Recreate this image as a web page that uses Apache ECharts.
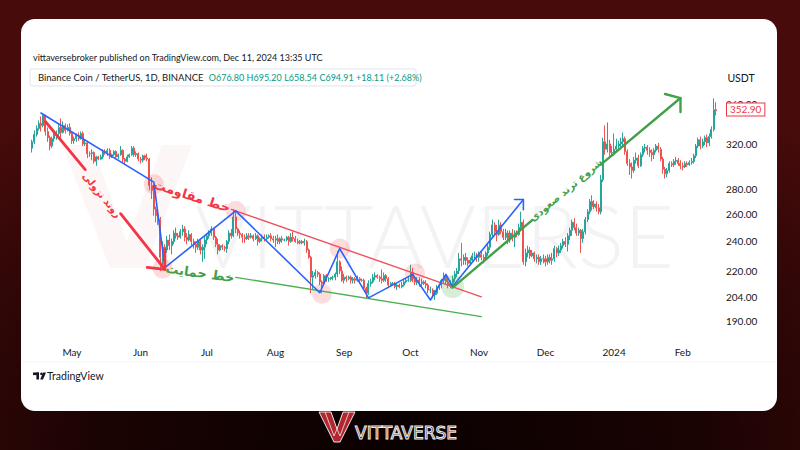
<!DOCTYPE html>
<html><head><meta charset="utf-8">
<script src="https://cdn.jsdelivr.net/npm/echarts@6/dist/echarts.min.js"></script>
<style>
html,body{margin:0;padding:0;width:800px;height:450px;overflow:hidden;}
body{background:radial-gradient(ellipse 75% 95% at 50% 100%, #0a0101 0%, #1a0303 50%, #480b0b 100%);}
#card{position:absolute;left:21px;top:19px;width:756px;height:392px;background:#fff;border-radius:14px;}
#chart{position:absolute;left:0;top:0;width:800px;height:450px;}
</style></head><body>
<div id="card"></div><div id="chart"></div>
<script>
// ---- daily candles [open, close, low, high], BNB/USDT from 2023-04-13 ----
const apr=[[316,322,312,324],[322,329,320,333],[329,335,327,338],[335,340,333,343],[340,338,332,347],[338,348,336,350],[348,332,328,349],[332,326,322,336],[326,318,314,328],[318,325,316,327],[325,329,322,331],[329,330,324,333],[330,336,327,339],[336,331,325,345],[331,338,330,342],[338,333,330,340],[333,336,332,339],[336,330,328,340]];
const may=[[330,323,320,332],[323,325,320,327],[325,328,322,330],[328,325,323,331],[325,330,324,332],[330,320,318,332],[320,321,318,324],[321,311,307,322],[311,311,308,313],[311,312,305,315],[312,304,302,313],[304,308,300,309],[308,306,305,309],[306,308,305,310],[308,313,306,315],[313,312,310,315],[312,314,309,316],[314,308,306,316],[308,310,307,311],[310,313,309,314],[313,308,306,314],[308,310,306,311],[310,314,309,318],[314,306,303,315],[306,304,301,307],[304,308,303,310],[308,310,307,311],[310,316,309,318],[316,310,308,318],[310,311,308,313],[311,306,304,312]];
const jun=[[306,305,302,308],[305,309,303,310],[309,307,305,310],[307,306,304,311],[306,283,279,307],[283,279,272,290],[279,264,259,284],[264,259,254,266],[259,256,252,262],[256,229,220,258],[229,236,224,240],[236,234,230,238],[234,241,232,244],[241,237,234,245],[237,240,231,242],[240,246,238,248],[246,244,242,250],[244,243,241,246],[243,247,242,249],[247,249,244,252],[249,243,240,251],[243,241,238,246],[241,245,240,248],[245,240,237,246],[240,238,235,242],[238,236,232,240],[236,240,234,242],[240,234,231,241],[234,236,226,238],[236,241,228,244]];
const jul=[[241,244,238,246],[244,246,242,248],[246,249,244,251],[249,243,241,250],[243,238,236,244],[238,234,231,242],[234,237,233,238],[237,236,234,238],[236,235,233,237],[235,240,232,241],[240,246,238,248],[246,244,242,249],[244,258,243,264],[258,249,246,262],[249,246,244,250],[246,245,242,248],[245,243,239,246],[243,242,239,245],[242,244,241,246],[244,243,241,246],[243,244,242,246],[244,242,240,245],[242,244,241,246],[244,240,237,245],[240,242,239,243],[242,243,240,245],[243,242,240,245],[242,243,241,245],[243,244,242,245],[244,242,240,246],[242,241,239,244]];
const aug=[[241,242,236,244],[242,240,238,245],[240,242,238,243],[242,241,239,244],[241,241,240,242],[241,243,240,244],[243,240,237,244],[240,243,239,246],[243,242,240,247],[242,240,239,244],[240,239,238,242],[239,240,238,241],[240,239,238,241],[239,240,237,242],[240,234,232,241],[234,229,228,235],[229,216,206,230],[216,217,208,220],[217,219,215,221],[219,218,216,220],[218,213,211,219],[213,212,206,214],[212,217,211,218],[217,215,213,218],[215,215,213,216],[215,216,214,216],[216,216,214,217],[216,218,214,219],[218,226,216,233],[226,220,218,227],[220,214,213,223]];
const sep=[[214,216,212,218],[216,215,213,217],[215,216,214,217],[216,214,212,217],[214,215,212,216],[215,214,212,216],[214,215,213,217],[215,214,212,216],[214,214,213,215],[214,209,208,215],[209,206,203,210],[206,212,205,214],[212,213,210,215],[213,216,212,218],[216,217,214,219],[217,216,215,218],[216,215,213,217],[215,214,212,221],[214,217,213,219],[217,215,213,218],[215,211,209,216],[211,212,210,213],[212,212,211,213],[212,210,209,213],[210,211,208,212],[211,210,209,212],[210,211,209,213],[211,213,210,215],[213,214,212,215],[214,214,213,216]];
const oct=[[214,219,213,224],[219,215,213,222],[215,213,211,216],[213,214,211,216],[214,212,210,216],[212,213,210,215],[213,212,211,214],[212,211,209,214],[211,208,206,212],[208,208,206,210],[208,205,203,209],[205,206,202,208],[206,210,205,211],[210,211,208,212],[211,214,209,215],[214,217,212,219],[217,213,211,218],[213,211,209,215],[211,212,209,214],[212,215,210,217],[215,218,213,220],[218,220,216,222],[220,228,218,232],[228,227,223,239],[227,229,224,231],[229,227,224,232],[227,225,223,229],[225,227,224,229],[227,230,226,232],[230,230,227,233],[230,229,226,232]];
const nov=[[229,231,226,233],[231,229,227,234],[229,228,225,231],[228,232,227,233],[232,236,230,238],[236,245,234,247],[245,252,243,256],[252,247,244,254],[247,245,240,252],[245,252,244,256],[252,247,245,254],[247,243,241,249],[243,246,241,249],[246,241,238,248],[241,246,239,248],[246,243,240,249],[243,246,236,248],[246,245,243,248],[245,250,244,253],[250,254,248,262],[254,226,224,256],[226,232,223,235],[232,234,229,237],[234,230,228,236],[230,232,229,234],[232,228,226,233],[228,229,225,231],[229,226,224,231],[226,228,224,230],[228,228,225,231]];
const dec=[[228,226,223,230],[226,229,224,231],[229,227,225,231],[227,228,224,232],[228,235,226,237],[235,232,229,236],[232,234,230,237],[234,237,232,239],[237,240,235,242],[240,238,236,243],[238,244,233,246],[244,248,241,250],[248,254,244,256],[254,250,248,257],[250,246,244,253],[246,248,244,250],[248,242,232,249],[242,247,239,249],[247,256,245,258],[256,262,254,264],[262,270,260,272],[270,266,263,275],[266,268,264,271],[268,265,262,270],[265,262,260,268],[262,288,260,292],[288,322,286,326],[322,315,310,338],[315,320,312,341],[320,312,309,324],[312,312,308,318]];
const jan=[[312,315,309,330],[315,318,312,325],[318,320,314,323],[320,322,316,326],[322,325,318,331],[325,313,310,327],[313,302,300,315],[302,299,292,306],[299,296,289,303],[296,305,294,308],[305,307,302,312],[307,300,298,310],[300,310,299,312],[310,316,308,318],[316,317,312,320],[317,314,310,319],[314,312,308,317],[312,310,304,315],[310,314,306,316],[314,318,312,320],[318,315,312,321],[315,306,304,317],[306,297,293,308],[297,293,289,299],[293,296,290,298],[296,302,294,304],[302,301,299,304],[301,304,299,306],[304,305,301,308],[305,302,300,307],[302,300,297,305]];
const feb=[[300,299,296,303],[299,302,298,304],[302,301,299,304],[301,303,300,305],[303,304,301,307],[304,309,302,311],[309,318,307,320],[318,324,316,326],[324,318,315,327],[318,322,316,325],[322,326,319,328],[326,321,317,329],[321,327,318,330],[327,334,325,337],[334,354,332,366],[354,352.9,348,362]];
const startDate = '2023-04-13';
const lastPrice = 352.9;
const priceTicks = [190, 204, 220, 240, 260, 280, 320, 360];
const monthNames = ['Jan','Feb','Mar','Apr','May','Jun','Jul','Aug','Sep','Oct','Nov','Dec'];

// ---- drawn annotations: [date, price] ----
const blueZigzag = [['2023-04-17',350.6],['2023-06-07',285.9],['2023-06-12',222.2],['2023-07-14',262.6],['2023-08-21',206.3],['2023-08-30',235.0],['2023-09-12',203.2],['2023-10-02',217.8],['2023-10-10',201.9],['2023-10-17',217.8],['2023-10-20',210.1],['2023-11-21',271.6]];
const blueHead = [['2023-11-17',271.6],['2023-11-21',271.6],['2023-11-21',263.6]];
const resistance = [['2023-07-12',263.8],['2023-11-02',203.8]];
const support = [['2023-07-14',215.9],['2023-11-02',192.3]];
const upTrendA = [['2023-10-20',209.4],['2023-11-25',255.6]];
const upTrendB = [['2023-12-26',301.1],['2024-01-31',366.4]];
const upHead = [['2024-01-24',370.8],['2024-01-31',366.4],['2024-01-31',351.6]];
const downA = [['2023-04-19',341.9],['2023-05-07',296.7]];
const downB = [['2023-05-23',260.5],['2023-06-12',221.0]];
const downHead = [['2023-06-04',222.3],['2023-06-12',221.0],['2023-06-12',234.4]];
const pinkDots = [['2023-06-07',284.1],['2023-06-11',221.6],['2023-07-14',262.6],['2023-08-22',205.7],['2023-08-30',235.0],['2023-10-03',218.4]];
const greenDots = [['2023-10-20',210.1]];

// ---- build ----
const candles = [].concat(apr,may,jun,jul,aug,sep,oct,nov,dec,jan,feb);
const dates = [];
const t0 = Date.parse(startDate+'T00:00:00Z');
for (let i=0;i<candles.length;i++){ dates.push(new Date(t0+i*86400000).toISOString().slice(0,10)); }
const L = Math.log;
const kData = candles.map(c=>c.map(L));
const pts = a => a.map(p=>[p[0], L(p[1])]);
const UP='#26a69a', DOWN='#ef5350', RED='#f23645', BLUE='#2962ff', GREEN='#43a047';

function lineSeries(data,color,width){
  return {type:'line',data:pts(data),symbol:'none',showSymbol:false,silent:true,z:5,
    lineStyle:{color:color,width:width,cap:'round',join:'round'},animation:false};
}

const chart = echarts.init(document.getElementById('chart'), null, {renderer:'svg',width:800,height:450});
chart.setOption({
  backgroundColor:'transparent',
  animation:false,
  grid:{left:31,right:83,top:90,bottom:112,outerBoundsMode:'none',containLabel:false},
  xAxis:{type:'category',data:dates,boundaryGap:true,
    axisLine:{show:false},axisTick:{show:false},splitLine:{show:false},
    axisLabel:{color:'#131722',fontSize:10,fontFamily:'Lato',margin:9,hideOverlap:false,
      interval:(i,v)=>v.slice(8)==='01',
      formatter:v=>{const m=+v.slice(5,7);return m===1?v.slice(0,4):monthNames[m-1];}}},
  yAxis:{type:'value',position:'right',min:L(180.5),max:L(375.2),
    axisLine:{show:false},axisTick:{show:false},splitLine:{show:false},
    axisLabel:{color:'#131722',fontSize:10,fontFamily:'Lato',margin:9,showMinLabel:true,showMaxLabel:true,
      customValues:priceTicks.map(L),formatter:v=>Math.exp(v).toFixed(2)}},
  series:[
    {type:'candlestick',data:kData,barWidth:'68%',z:2,silent:true,
      itemStyle:{color:UP,color0:DOWN,borderColor:UP,borderColor0:DOWN,borderWidth:1},
      markLine:{silent:true,symbol:'none',animation:false,z:20,
        lineStyle:{color:'rgba(242,54,69,0)',width:1,type:'solid'},
        data:[{yAxis:L(lastPrice)}],
        label:{show:true,position:'end',distance:10,formatter:lastPrice.toFixed(2),color:RED,fontSize:10,fontFamily:'Lato',
          backgroundColor:'#ffffff',borderColor:RED,borderWidth:1,padding:[1,3,1,3]}}},
    {type:'scatter',data:pts(pinkDots),symbolSize:20,silent:true,z:3,itemStyle:{color:'rgba(242,54,69,0.22)'}},
    {type:'scatter',data:pts(greenDots),symbolSize:23,silent:true,z:3,itemStyle:{color:'rgba(76,175,80,0.28)'}},
    lineSeries(resistance,'#f0505e',1.4),
    lineSeries(support,'#4caf50',1.3),
    lineSeries(blueZigzag,BLUE,1.6),
    lineSeries(blueHead,BLUE,1.6),
    lineSeries(upTrendA,GREEN,2.4),
    lineSeries(upTrendB,GREEN,2.4),
    lineSeries(upHead,GREEN,2.4),
    lineSeries(downA,RED,2.8),
    lineSeries(downB,RED,2.8),
    lineSeries(downHead,RED,2.8)
  ],
  graphic:[
    {type:'polygon',silent:true,z:0,shape:{points:[[62,145],[92,145],[127,242],[162,145],[192,145],[145,268],[110,268]]},style:{fill:'#fdf6f6'}},
    {type:'text',silent:true,z:0,x:195,y:234,style:{text:'VITTAVERSE',font:'300 86px Lato',fill:'#f3f3f5',align:'left',verticalAlign:'middle'}},
    {type:'text',silent:true,z:10,x:33,y:57,style:{text:'vittaversebroker published on TradingView.com, Dec 11, 2024 13:35 UTC',font:'9px Lato',fill:'#131722',verticalAlign:'middle'}},
    {type:'rect',silent:true,z:10,shape:{x:30,y:69,width:386,height:17,r:2},style:{fill:'#fff',stroke:'#e0e3eb',lineWidth:1}},
    {type:'text',silent:true,z:11,x:38,y:77.5,style:{
      text:'{d|Binance Coin / TetherUS, 1D, BINANCE}  {g|O676.80} {g|H695.20} {g|L658.54} {g|C694.91} {g|+18.11 (+2.68%)}',
      verticalAlign:'middle',font:'9.5px Lato',
      rich:{d:{fill:'#131722',font:'9.5px Lato'},g:{fill:'#089981',font:'9px Lato'}}}},
    {type:'text',silent:true,z:10,x:741,y:78,style:{text:'USDT',font:'10.5px Lato',fill:'#131722',align:'center',verticalAlign:'middle'}},
    {type:'line',silent:true,z:10,shape:{x1:22,y1:362,x2:776,y2:362},style:{stroke:'#f0f3fa',lineWidth:1}},
    {type:'rect',silent:true,z:10,shape:{x:33,y:372.5,width:6,height:2.6},style:{fill:'#131722'}},
    {type:'rect',silent:true,z:10,shape:{x:36.4,y:372.5,width:2.6,height:7},style:{fill:'#131722'}},
    {type:'circle',silent:true,z:10,shape:{cx:41.4,cy:373.8,r:1.3},style:{fill:'#131722'}},
    {type:'polygon',silent:true,z:10,shape:{points:[[43,372.5],[46,372.5],[43,379.5],[40.2,379.5]]},style:{fill:'#131722'}},
    {type:'text',silent:true,z:10,x:47,y:376,style:{text:'TradingView',font:'10.5px Lato',fill:'#131722',verticalAlign:'middle'}},
    {type:'text',silent:true,z:12,x:102,y:195,rotation:-0.887,style:{text:'روند نزولی',font:'bold 10px "DejaVu Sans"',fill:RED,align:'center',verticalAlign:'middle'}},
    {type:'text',silent:true,z:12,x:192,y:196,rotation:-0.31,style:{text:'خط مقاومت',font:'bold 13px "DejaVu Sans"',fill:RED,align:'center',verticalAlign:'middle'}},
    {type:'text',silent:true,z:12,x:200,y:273,rotation:-0.14,style:{text:'خط حمایت',font:'bold 13px "DejaVu Sans"',fill:GREEN,align:'center',verticalAlign:'middle'}},
    {type:'text',silent:true,z:12,x:566,y:190,rotation:0.70,style:{text:'شروع ترند صعودی',font:'bold 10px "DejaVu Sans"',fill:GREEN,align:'center',verticalAlign:'middle'}},
    {type:'polygon',silent:true,z:10,shape:{points:[[319,412],[331,412],[337,429],[343,412],[355,412],[340,442],[334,442]]},style:{fill:'#b3262f',stroke:'#e9e9e9',lineWidth:1}},
    {type:'polyline',silent:true,z:10,shape:{points:[[325,412],[334,436],[337,429],[340,436],[349,412]]},style:{stroke:'#e9e9e9',lineWidth:0.8,fill:null}},
    {type:'text',silent:true,z:10,x:355,y:433,style:{text:'VITTAVERSE',font:'17px "DejaVu Sans"',fill:'rgba(255,255,255,0.12)',stroke:'#ececec',lineWidth:1,verticalAlign:'middle'}}
  ]
});
</script></body></html>
